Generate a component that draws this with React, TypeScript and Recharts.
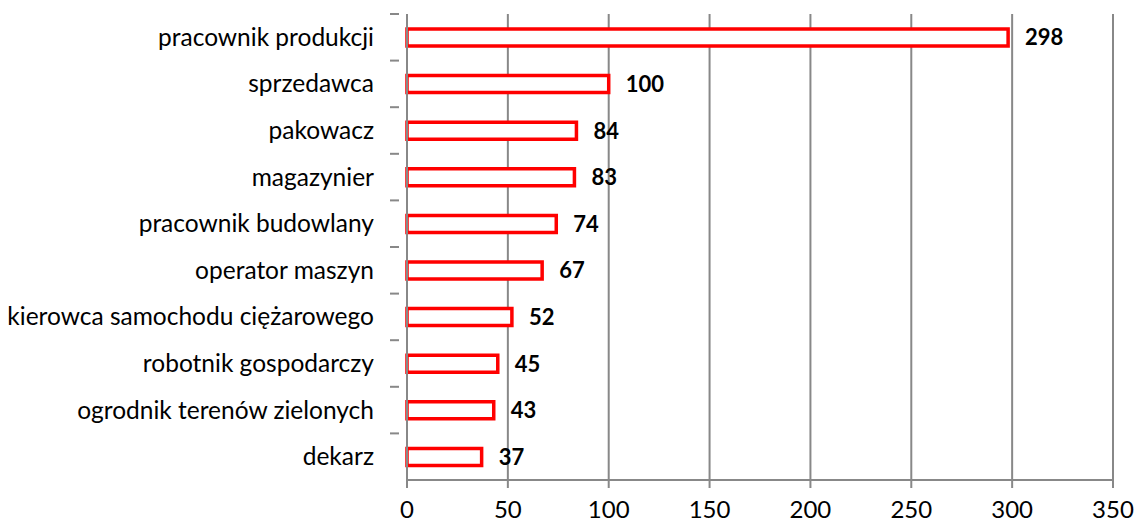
import { Bar, BarChart, CartesianGrid, LabelList, XAxis, YAxis } from "recharts";

const occupations = [
  "pracownik produkcji",
  "sprzedawca",
  "pakowacz",
  "magazynier",
  "pracownik budowlany",
  "operator maszyn",
  "kierowca samochodu ciężarowego",
  "robotnik gospodarczy",
  "ogrodnik terenów zielonych",
  "dekarz",
];
const counts = [298, 100, 84, 83, 74, 67, 52, 45, 43, 37];
const xTicks = [0, 50, 100, 150, 200, 250, 300, 350];

const data = occupations.map((name, i) => ({ name, value: counts[i] }));

const W = 1136;
const H = 524;
const TOP = 14;
const BOTTOM = 44;
const AXIS_W = 407;
const FONT = "Lato, 'Open Sans', sans-serif";
const GRID = "#888888";
const band = (H - TOP - BOTTOM) / occupations.length;

function CategoryTick(props: any) {
  const { x, y, payload } = props;
  return (
    <g>
      <line x1={x - 9} x2={x} y1={y - band / 2} y2={y - band / 2} stroke={GRID} strokeWidth={2} />
      <text x={x - 25} y={y} dy="0.35em" textAnchor="end" fontSize={24.5} fontFamily={FONT} fill="#000">
        {payload.value}
      </text>
    </g>
  );
}

function ValueTick(props: any) {
  const { x, y, payload } = props;
  return (
    <text x={x} y={y} dy="0.71em" textAnchor="middle" fontSize={24} fontFamily={FONT} fill="#000">
      {payload.value}
    </text>
  );
}

export default function App() {
  return (
    <div style={{ position: "absolute", left: 0, top: 0, background: "#fff" }}>
      <BarChart
        width={W}
        height={H}
        data={data}
        layout="vertical"
        margin={{ top: TOP, right: 23, bottom: 0, left: 0 }}
      >
        <CartesianGrid horizontal={false} stroke={GRID} strokeWidth={2} />
        <XAxis
          type="number"
          domain={[0, 350]}
          ticks={xTicks}
          interval={0}
          height={BOTTOM}
          tickSize={8}
          tickMargin={13}
          stroke={GRID}
          strokeWidth={2}
          tick={<ValueTick />}
        />
        <YAxis
          type="category"
          dataKey="name"
          width={AXIS_W}
          interval={0}
          tickLine={false}
          stroke={GRID}
          strokeWidth={2}
          tick={<CategoryTick />}
        />
        <Bar dataKey="value" fill="#fff" stroke="#ff0000" strokeWidth={3.5} barSize={17} isAnimationActive={false}>
          <LabelList
            dataKey="value"
            position="right"
            offset={17}
            fontSize={22}
            fontWeight="bold"
            fontFamily={FONT}
            fill="#000"
          />
        </Bar>
      </BarChart>
    </div>
  );
}
